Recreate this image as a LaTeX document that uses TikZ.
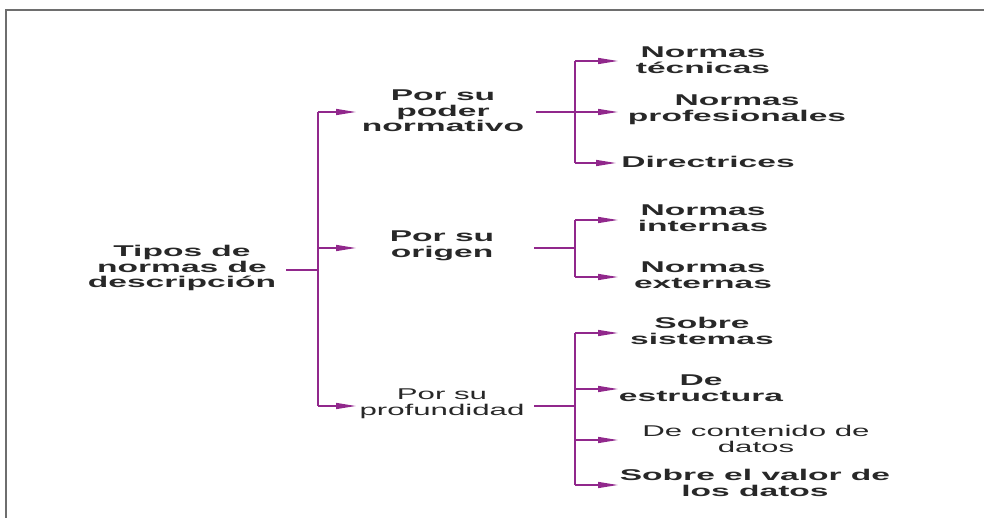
\documentclass[tikz,border=0pt]{standalone}
\usepackage{fontspec}
\usetikzlibrary{arrows.meta}
\newfontfamily\labf{Liberation Sans}[FakeStretch=2.15]
\newfontfamily\labr{Liberation Sans}[FakeStretch=2.0]
\definecolor{linec}{RGB}{145,40,140}
\definecolor{textc}{RGB}{40,40,40}
\definecolor{framec}{RGB}{110,110,110}
\tikzset{
  lbl/.style={text=textc, align=center, inner sep=0pt, font=\labf\fontsize{15.6}{15.5}\selectfont\bfseries},
  lblr/.style={text=textc, align=center, inner sep=0pt, font=\labr\fontsize{15.6}{15.5}\selectfont},
  ln/.style={draw=linec, line width=1.4pt},
  arr/.style={draw=linec, line width=1.4pt, -{Triangle[length=20pt,width=6pt]}}
}
\begin{document}
\begin{tikzpicture}[x=1pt,y=-1pt]
\useasboundingbox (0,0) rectangle (984,518);
% frame
\draw[framec, line width=2pt] (6,518) -- (6,10) -- (984,10);
% nodes
\node[lbl] (root) at (182,268) {Tipos de\\normas de\\descripción};
\node[lbl] (A) at (443,111) {Por su\\poder\\normativo};
\node[lbl] (B) at (442,246) {Por su\\origen};
\node[lblr] (C) at (442,404) {Por su\\profundidad};
\node[lbl] (A1) at (703,60) {Normas\\técnicas};
\node[lbl] (A2) at (737,110) {Normas\\profesionales};
\node[lbl] (A3) at (708,162) {Directrices};
\node[lbl] (B1) at (703,218) {Normas\\internas};
\node[lbl] (B2) at (703,275) {Normas\\externas};
\node[lbl] (C1) at (702,331) {Sobre\\sistemas};
\node[lbl] (C2) at (701,388) {De\\estructura};
\node[lblr] (C3) at (756,439) {De contenido de\\datos};
\node[lbl] (C4) at (755,483) {Sobre el valor de\\los datos};
% coordinates
\coordinate (rootR) at (286,270);
\coordinate (tr) at (318,270);
\coordinate (trA) at (318,112);
\coordinate (trB) at (318,248);
\coordinate (trC) at (318,406);
\coordinate (tA) at (356,112);
\coordinate (tB) at (356,248);
\coordinate (tC) at (356,406);
\coordinate (AR) at (536,112);
\coordinate (BR) at (534,248);
\coordinate (CR) at (534,406);
\coordinate (vA) at (575,112);
\coordinate (vB) at (575,248);
\coordinate (vC) at (575,406);
\coordinate (vA1) at (575,61);
\coordinate (vA2) at (575,112);
\coordinate (vA3) at (575,163);
\coordinate (vB1) at (575,220);
\coordinate (vB2) at (575,277);
\coordinate (vC1) at (575,333);
\coordinate (vC2) at (575,389);
\coordinate (vC3) at (575,440);
\coordinate (vC4) at (575,485);
\coordinate (tA1) at (618,61);
\coordinate (tA2) at (618,112);
\coordinate (tA3) at (616,163);
\coordinate (tB1) at (618,220);
\coordinate (tB2) at (618,277);
\coordinate (tC1) at (618,333);
\coordinate (tC2) at (618,389);
\coordinate (tC3) at (618,440);
\coordinate (tC4) at (618,485);
% connectors
\draw[ln] (rootR) -- (tr);
\draw[ln] (trA) -- (trC);
\draw[arr] (trA) -- (tA);
\draw[arr] (trB) -- (tB);
\draw[arr] (trC) -- (tC);
\draw[ln] (AR) -- (vA);
\draw[ln] (BR) -- (vB);
\draw[ln] (CR) -- (vC);
\draw[ln] (vA1) -- (vA3);
\draw[ln] (vB1) -- (vB2);
\draw[ln] (vC1) -- (vC4);
\draw[arr] (vA1) -- (tA1);
\draw[arr] (vA2) -- (tA2);
\draw[arr] (vA3) -- (tA3);
\draw[arr] (vB1) -- (tB1);
\draw[arr] (vB2) -- (tB2);
\draw[arr] (vC1) -- (tC1);
\draw[arr] (vC2) -- (tC2);
\draw[arr] (vC3) -- (tC3);
\draw[arr] (vC4) -- (tC4);
\end{tikzpicture}
\end{document}
